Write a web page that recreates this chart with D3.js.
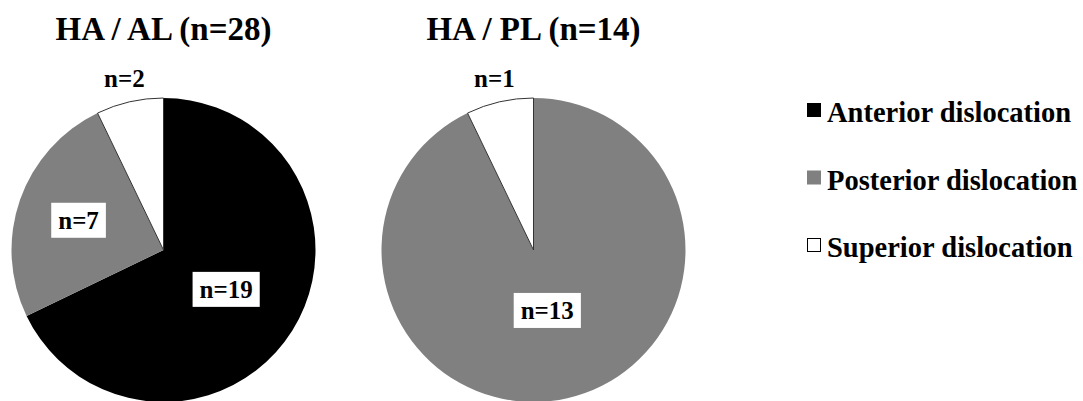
<!DOCTYPE html>
<html>
<head>
<meta charset="utf-8">
<script src="https://cdn.jsdelivr.net/npm/d3@7"></script>
<style>
  body { margin: 0; background: #fff; }
</style>
</head>
<body>
<div id="chart"></div>
<script>
// categories and counts
var categories = ["Anterior dislocation", "Posterior dislocation", "Superior dislocation"];
var groupTitles = ["HA / AL (n=28)", "HA / PL (n=14)"];
var alCounts = [19, 7, 2];
var plCounts = [0, 13, 1];

var colors = ["#000000", "#808080", "#ffffff"];

var width = 1083;
var height = 401;
var radius = 152;
var font = "Liberation Serif";

// label distance from centre, per slice
var labelDist = [[74, 90, 176], [0, 62, 176]];

var svg = d3.select("#chart")
  .append("svg")
  .attr("width", width)
  .attr("height", height);

var pie = d3.pie()
  .sort(null)
  .value(function(d) { return d; });

var arc = d3.arc()
  .innerRadius(0)
  .outerRadius(radius);

var pies = [
  {title: groupTitles[0], counts: alCounts, cx: 163.5},
  {title: groupTitles[1], counts: plCounts, cx: 533.5}
];

function addText(sel, size) {
  return sel.append("text")
    .attr("font-family", font)
    .attr("font-weight", "bold")
    .attr("font-size", size);
}

pies.forEach(function(p, pi) {
  var g = svg.append("g")
    .attr("transform", "translate(" + p.cx + ",250)");

  addText(svg, 33)
    .attr("x", p.cx)
    .attr("y", 40)
    .attr("text-anchor", "middle")
    .text(p.title);

  var arcs = pie(p.counts);

  g.selectAll("path")
    .data(arcs)
    .enter().append("path")
    .attr("d", arc)
    .attr("fill", function(d, i) { return colors[i]; })
    .attr("stroke", function(d, i) { return i == 2 ? "#333" : "none"; })
    .attr("stroke-width", 1);

  //labels
  arcs.forEach(function(d, i) {
    if (d.value == 0) return;
    var r = labelDist[pi][i];
    var pos = d3.arc().innerRadius(r).outerRadius(r).centroid(d);
    var lbl = g.append("g").attr("transform", "translate(" + pos[0] + "," + pos[1] + ")");
    var t = addText(lbl, 25)
      .attr("text-anchor", "middle")
      .attr("dy", "0.33em")
      .text("n=" + d.value);
    if (r < radius) {
      var bb = t.node().getBBox();
      lbl.insert("rect", "text")
        .attr("x", bb.x - 7)
        .attr("y", -17.5)
        .attr("width", bb.width + 14)
        .attr("height", 35)
        .attr("fill", "#fff");
    }
  });
});

// legend
var legend = svg.append("g")
  .attr("transform", "translate(807,0)");

var rowY = d3.scalePoint()
  .domain(categories)
  .range([122, 257]);

categories.forEach(function(c, i) {
  var y = rowY(c);
  legend.append("rect")
    .attr("x", i == 2 ? 0.5 : 0)
    .attr("y", y - 19 + (i == 2 ? 0.5 : 0))
    .attr("width", i == 2 ? 13 : 14)
    .attr("height", i == 2 ? 13 : 14)
    .attr("fill", colors[i])
    .attr("stroke", i == 2 ? "#000" : "none")
    .attr("stroke-width", 1);
  addText(legend, 28.5)
    .attr("x", 20)
    .attr("y", y)
    .text(c);
});
</script>
</body>
</html>
